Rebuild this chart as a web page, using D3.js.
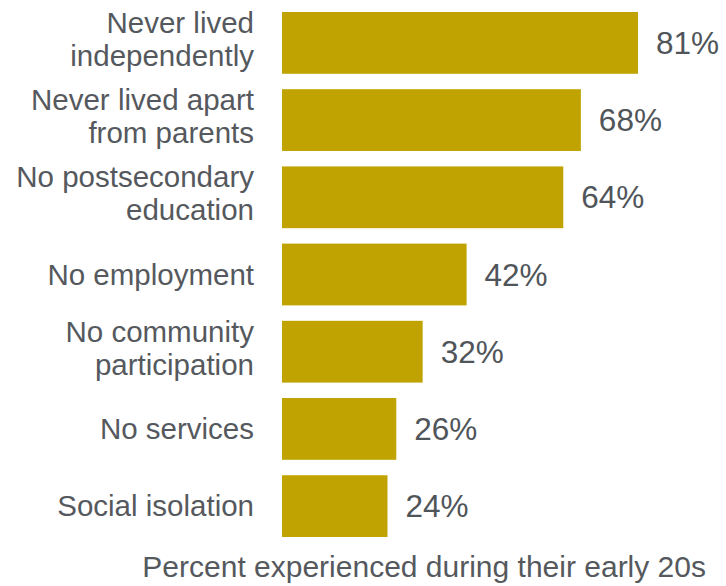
<!DOCTYPE html>
<html>
<head>
<meta charset="utf-8">
<script src="https://cdn.jsdelivr.net/npm/d3@7"></script>
<style>
  body { margin: 0; background: #fff; }
  svg text { font-family: "Liberation Sans", Arial, Helvetica, sans-serif; }
</style>
</head>
<body>
<div id="chart"></div>
<script>
// categories (each label split into its lines) and values in percent
var categories = [
    ["Never lived", "independently"],
    ["Never lived apart", "from parents"],
    ["No postsecondary", "education"],
    ["No employment"],
    ["No community", "participation"],
    ["No services"],
    ["Social isolation"]
];
var values = [81, 68, 64, 42, 32, 26, 24];
var axisTitle = "Percent experienced during their early 20s";

drawChart();

function drawChart() {
    var width = 726, height = 586;

    var data = values.map(function(v, i) {
        return { lines: categories[i], value: v, key: i };
    });

    var svg = d3.select("#chart").append("svg")
        .attr("width", width)
        .attr("height", height);

    var x = d3.scaleLinear()
        .domain([0, 100])
        .range([282, 721.5]);

    var y = d3.scaleBand()
        .domain(data.map(function(d) { return d.key; }))
        .range([12, 537])
        .paddingInner(0.2)
        .paddingOuter(0);

    // bars
    svg.selectAll(".bar")
        .data(data)
        .enter().append("rect")
        .attr("class", "bar")
        .attr("x", x(0))
        .attr("y", function(d) { return y(d.key); })
        .attr("width", function(d) { return x(d.value) - x(0); })
        .attr("height", y.bandwidth())
        .attr("fill", "#c0a200");

    // category labels, right aligned left of the bars
    var lab = svg.selectAll(".label")
        .data(data)
        .enter().append("text")
        .attr("class", "label")
        .attr("text-anchor", "end")
        .attr("font-size", "29.5px")
        .attr("fill", "#55595e");

    lab.each(function(d) {
        var cy = y(d.key) + y.bandwidth() / 2;
        var t = d3.select(this);
        if (d.lines.length == 1) {
            t.append("tspan").attr("x", 254).attr("y", cy + 10).text(d.lines[0]);
        } else {
            t.append("tspan").attr("x", 254).attr("y", cy - 10).text(d.lines[0]);
            t.append("tspan").attr("x", 254).attr("y", cy + 23).text(d.lines[1]);
        }
    });

    // value labels
    svg.selectAll(".value")
        .data(data)
        .enter().append("text")
        .attr("class", "value")
        .attr("x", function(d) { return x(d.value) + 18; })
        .attr("y", function(d) { return y(d.key) + y.bandwidth() / 2 + 11; })
        .attr("font-size", "31.5px")
        .attr("fill", "#50555a")
        .text(function(d) { return d.value + "%"; });

    // axis title at the bottom
    svg.append("text")
        .attr("x", 706)
        .attr("y", 577)
        .attr("text-anchor", "end")
        .attr("font-size", "30px")
        .attr("fill", "#55595e")
        .text(axisTitle);
}
</script>
</body>
</html>
